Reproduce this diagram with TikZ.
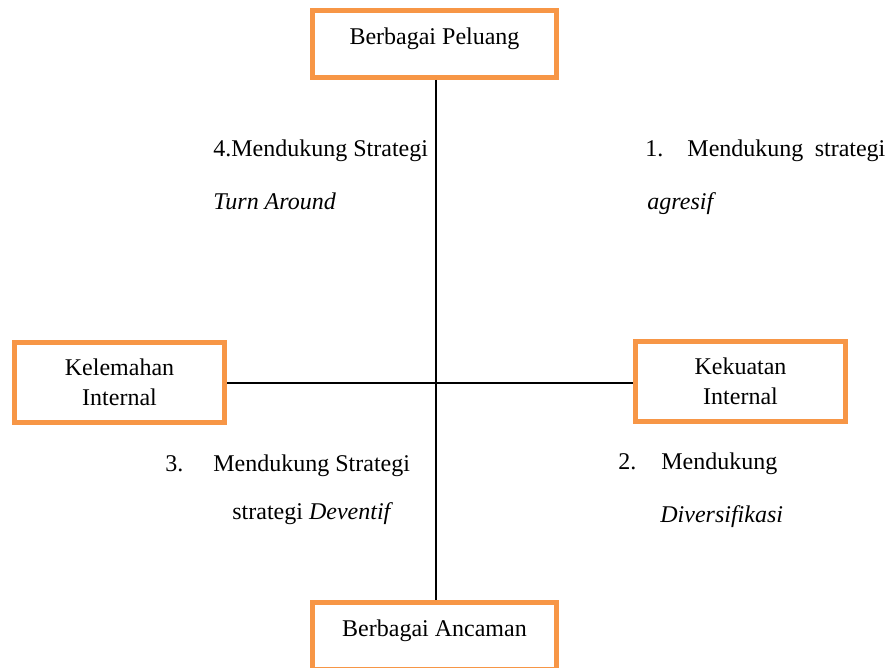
\documentclass[tikz,border=0pt]{standalone}
\usepackage{fontspec}
\setmainfont{Liberation Serif}
\definecolor{swotorange}{HTML}{F79646}
\usepackage{tikz}

\begin{document}
\begin{tikzpicture}[x=0.5pt, y=-0.5pt,
  box/.style={draw=swotorange, line width=2.5pt, fill=white, inner sep=0pt,
              font=\fontsize{12}{15}\selectfont, align=center},
  onebox/.style={box, minimum width=122pt, minimum height=33.5pt,
                 text height=8pt, text depth=7.5pt},
  sidebox/.style={box, minimum width=105pt, minimum height=40pt},
  axis/.style={line width=0.9pt, black},
  txt/.style={anchor=base west, inner sep=0pt, font=\fontsize{12}{14}\selectfont}
]
  \useasboundingbox (0,0) rectangle (895,668);
  \coordinate (c) at (436,383);
  \node[onebox] (peluang) at (434.5,44) {Berbagai Peluang};
  \node[onebox] (ancaman) at (434.5,636) {Berbagai Ancaman};
  \node[sidebox] (lemah) at (119.5,382.5) {Kelemahan\\Internal};
  \node[sidebox] (kuat) at (740.5,381.5) {Kekuatan\\Internal};
  \draw[axis] (peluang.south -| c) -- (ancaman.north -| c);
  \draw[axis] (lemah.east |- c) -- (kuat.west |- c);
  \node[txt] (q4a) at (213,157) {4.Mendukung Strategi};
  \node[txt] (q4b) at (213,210) {\textit{Turn Around}};
  \node[txt] (q1a) at (645,157) {\makebox[120pt][s]{1. Mendukung strategi}};
  \node[txt] (q1b) at (647,210) {\textit{agresif}};
  \node[txt] (q3a) at (165,472) {\makebox[24pt][l]{3.}Mendukung Strategi};
  \node[txt] (q3b) at (232,519) {strategi \textit{Deventif}};
  \node[txt] (q2a) at (618,470) {\makebox[21.5pt][l]{2.}Mendukung};
  \node[txt] (q2b) at (660,523) {\textit{Diversifikasi}};
\end{tikzpicture}
\end{document}
